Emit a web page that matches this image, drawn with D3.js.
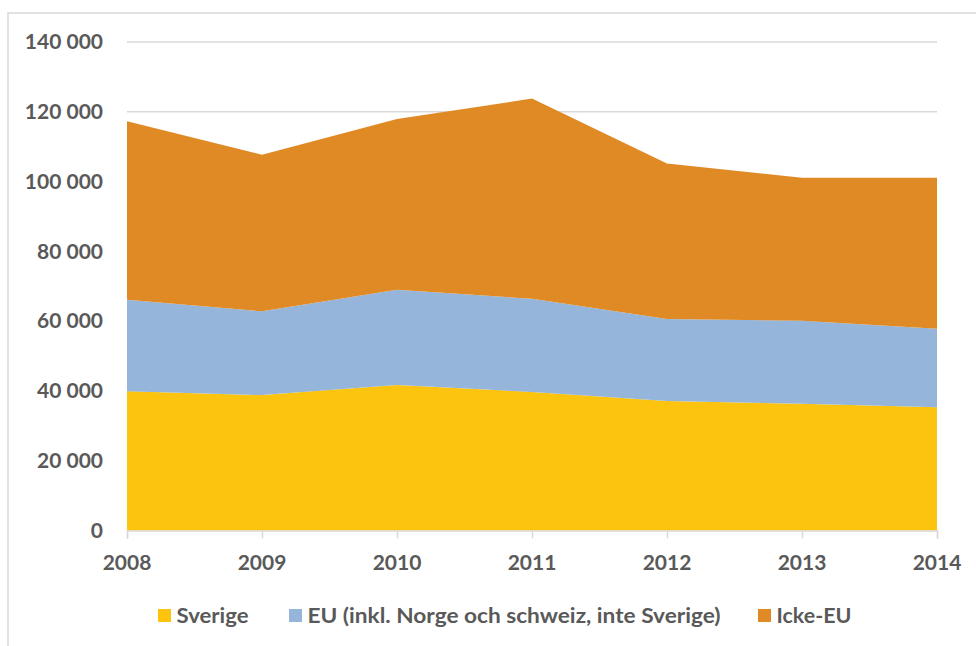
<!DOCTYPE html>
<html><head><meta charset="utf-8">
<script src="https://cdn.jsdelivr.net/npm/d3@7"></script>
<style>body{margin:0;background:#fff;} svg{display:block;font-family:Lato,"Open Sans",sans-serif;font-weight:bold;}</style>
</head><body><svg id="c" width="976" height="646"></svg>
<script>
const years = [2008, 2009, 2010, 2011, 2012, 2013, 2014];
const sverige = [39900, 38800, 41700, 39700, 37100, 36300, 35300];
const eu = [26200, 24000, 27300, 26700, 23500, 23800, 22500];
const ickeEu = [51200, 44900, 48900, 57400, 44600, 41000, 43300];
const yTicks = [0, 20000, 40000, 60000, 80000, 100000, 120000, 140000];
const seriesNames = ["Sverige", "EU (inkl. Norge och schweiz, inte Sverige)", "Icke-EU"];
const colors = ["#FCC40F", "#95B6DA", "#DF8A25"];

const svg = d3.select("#c");
const L = 127, R = 937, T = 42, B = 530.5;
const SX = 1.05;
svg.append("path").attr("d","M8,646 V13 H976").attr("fill","none").attr("stroke","#D9D9D9").attr("stroke-width",1.5);

const x = d3.scaleLinear().domain([2008, 2014]).range([L, R]);
const y = d3.scaleLinear().domain([0, 140000]).range([B, T]);

const fmt = v => d3.format(",")(v).replace(/,/g, " ");
// grid
svg.append("g").selectAll("line").data(yTicks.slice(1)).join("line")
  .attr("x1", L).attr("x2", R).attr("y1", d => y(d)).attr("y2", d => y(d))
  .attr("stroke", "#D9D9D9").attr("stroke-width", 1.5);

const table = years.map((yr, i) => ({year: yr, s: sverige[i], e: eu[i], n: ickeEu[i]}));
const stack = d3.stack().keys(["s", "e", "n"])(table);
const area = d3.area().x(d => x(d.data.year)).y0(d => y(d[0])).y1(d => y(d[1]));
svg.append("g").selectAll("path").data(stack).join("path")
  .attr("d", area).attr("fill", (d, i) => colors[i]);

// y labels
svg.append("g").selectAll("text").data(yTicks).join("text")
  .attr("transform", d => `translate(103,${y(d)}) scale(${SX},1)`)
  .attr("dy", "0.36em").attr("text-anchor", "end")
  .attr("font-size", 20).attr("fill", "#595959").text(fmt);

// x axis
const xa = svg.append("g").attr("transform", `translate(0,${B})`)
  .call(d3.axisBottom(x).tickValues(years).tickFormat("").tickSize(8));
xa.select(".domain").attr("stroke", "#D9D9D9").attr("stroke-width", 1.5);
xa.selectAll(".tick line").attr("stroke", "#D9D9D9").attr("stroke-width", 1.5);
svg.append("g").selectAll("text").data(years).join("text")
  .attr("transform", d => `translate(${x(d)},562.5) scale(${SX},1)`)
  .attr("dy", "0.36em").attr("text-anchor", "middle")
  .attr("font-size", 20).attr("fill", "#595959").text(d => d);

// legend
const legX = [158, 289, 758];
const legLen = [72, 413, 75];
const lg = svg.append("g").selectAll("g").data(seriesNames).join("g")
  .attr("transform", (d, i) => `translate(${legX[i]},609)`);
lg.append("rect").attr("width", 13).attr("height", 13).attr("fill", (d, i) => colors[i]);
lg.append("text").attr("x", 18.5).attr("y", 6.5).attr("dy", "0.36em")
  .attr("textLength", (d, i) => legLen[i]).attr("lengthAdjust", "spacingAndGlyphs")
  .attr("font-size", 20).attr("fill", "#595959").text(d => d);
</script></body></html>
